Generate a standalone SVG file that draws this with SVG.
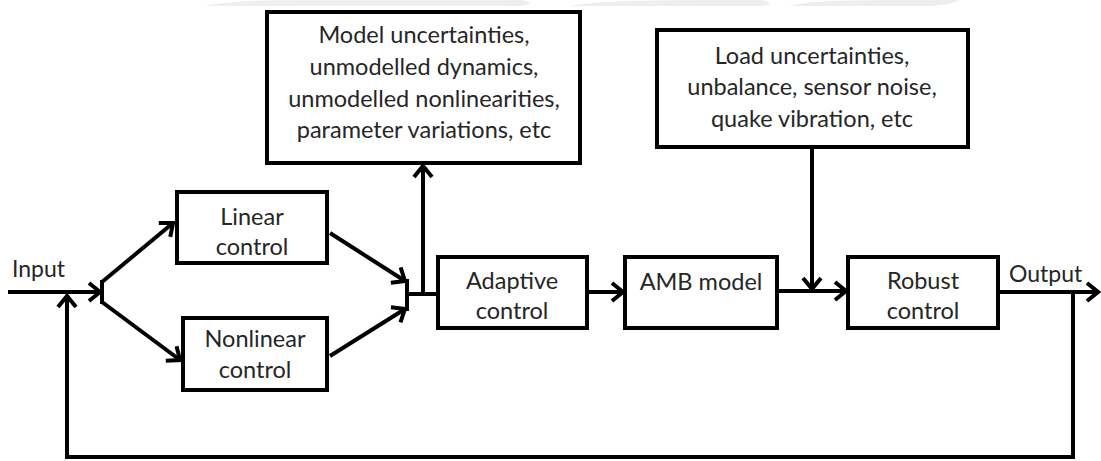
<svg xmlns="http://www.w3.org/2000/svg" width="1101" height="461" viewBox="0 0 1101 461">
  <defs>
    <style>
      .box { fill: #ffffff; stroke: #000000; stroke-width: 4; }
      .wire { fill: none; stroke: #000000; stroke-width: 4; }
      .arrow { marker-end: url(#head); }
      .label { font-family: Lato, "Liberation Sans", sans-serif; font-size: 23.5px; fill: #262626; text-anchor: middle; }
      .io { font-family: Lato, "Liberation Sans", sans-serif; font-size: 23px; fill: #262626; }
    </style>
    <marker id="head" markerUnits="userSpaceOnUse" viewBox="-16 -12 20 24" refX="0" refY="0" markerWidth="20" markerHeight="24" orient="auto" overflow="visible">
      <path d="M-11,-9 L0,0 L-11,9" fill="none" stroke="#000000" stroke-width="4"/>
    </marker>
  </defs>

  <rect width="1101" height="461" fill="#ffffff"/>

  <!-- faint band along the top edge -->
  <g id="top-band" fill="#e8e8e8" opacity="0.7">
    <path d="M205,6 Q230,0 300,0 L520,0 Q540,3 520,6 Z"/>
    <path d="M570,6 Q600,0 700,0 L760,0 Q780,4 760,6 Z"/>
    <path d="M790,6 Q810,0 880,0 L960,0 Q950,5 930,6 Z"/>
  </g>

  <!-- connectors -->
  <g id="connectors">
    <path class="wire arrow" d="M8,292 H100"/>
    <path class="wire" d="M102,280 V304"/>
    <path class="wire arrow" d="M102,282 L173,223"/>
    <path class="wire arrow" d="M102,302 L180,360"/>
    <path class="wire arrow" d="M330,233 L405,281"/>
    <path class="wire arrow" d="M330,356 L405,309"/>
    <path class="wire" d="M407,279 V311"/>
    <path class="wire" d="M407,294 H438"/>
    <path class="wire arrow" d="M423,294 V166"/>
    <path class="wire arrow" d="M587,292 H623"/>
    <path class="wire arrow" d="M777,291 H846"/>
    <path class="wire arrow" d="M812,147 V289"/>
    <path class="wire arrow" d="M998,292 H1098"/>
    <path class="wire arrow" d="M1073,292 V457 H67 V296"/>
  </g>

  <g id="model-uncertainties">
    <rect class="box" x="267" y="12" width="313" height="151"/>
    <text class="label" x="424" y="43">Model uncertainties,</text>
    <text class="label" x="424" y="75">unmodelled dynamics,</text>
    <text class="label" x="424" y="107">unmodelled nonlinearities,</text>
    <text class="label" x="424" y="138">parameter variations, etc</text>
  </g>

  <g id="load-uncertainties">
    <rect class="box" x="657" y="30" width="311" height="117"/>
    <text class="label" x="812" y="64">Load uncertainties,</text>
    <text class="label" x="812" y="95">unbalance, sensor noise,</text>
    <text class="label" x="812" y="127">quake vibration, etc</text>
  </g>

  <g id="linear-control">
    <rect class="box" x="177" y="192" width="150" height="71"/>
    <text class="label" x="252" y="225">Linear</text>
    <text class="label" x="252" y="255">control</text>
  </g>

  <g id="nonlinear-control">
    <rect class="box" x="183" y="318" width="144" height="72"/>
    <text class="label" x="255" y="347">Nonlinear</text>
    <text class="label" x="255" y="378">control</text>
  </g>

  <g id="adaptive-control">
    <rect class="box" x="438" y="257" width="149" height="71"/>
    <text class="label" x="512" y="289">Adaptive</text>
    <text class="label" x="512" y="319">control</text>
  </g>

  <g id="amb-model">
    <rect class="box" x="625" y="257" width="152" height="71"/>
    <text class="label" x="701" y="290">AMB model</text>
  </g>

  <g id="robust-control">
    <rect class="box" x="848" y="257" width="150" height="71"/>
    <text class="label" x="923" y="289">Robust</text>
    <text class="label" x="923" y="319">control</text>
  </g>

  <g id="io-labels">
    <text class="io" x="12" y="277">Input</text>
    <text class="io" x="1009" y="282">Output</text>
  </g>
</svg>
